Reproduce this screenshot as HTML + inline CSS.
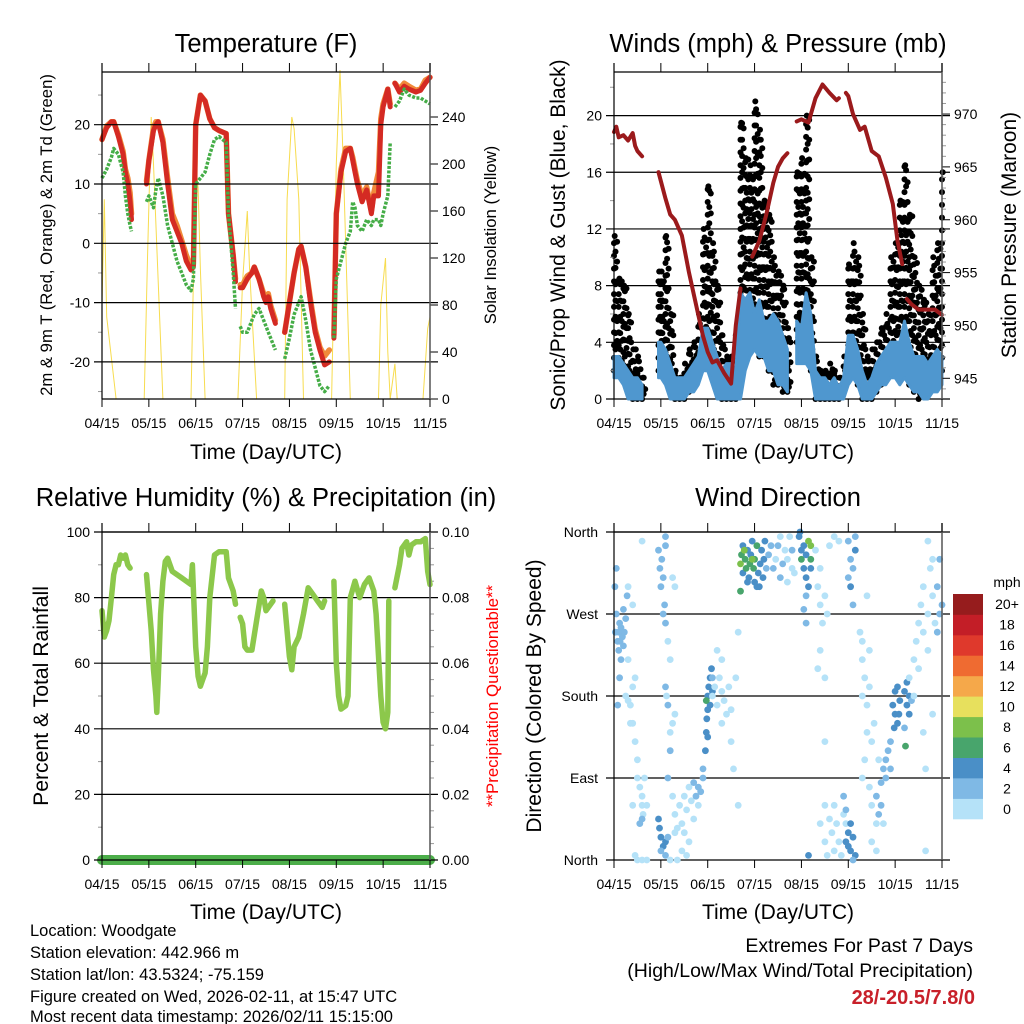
<!DOCTYPE html>
<html><head><meta charset="utf-8"><style>
html,body{margin:0;padding:0;background:#fff;}
svg{display:block;font-family:"Liberation Sans",Arial,sans-serif;}
</style></head><body>
<svg id="chart" width="1024" height="1024" viewBox="0 0 1024 1024" xmlns="http://www.w3.org/2000/svg">
<rect width="1024" height="1024" fill="#fff"/>
<g id="layer"></g>
<text x="266" y="52" font-size="25.5" text-anchor="middle">Temperature (F)</text>
<text x="778" y="52" font-size="25.5" text-anchor="middle">Winds (mph) &amp; Pressure (mb)</text>
<text x="266" y="506" font-size="25.5" text-anchor="middle">Relative Humidity (%) &amp; Precipitation (in)</text>
<text x="778" y="506" font-size="25.5" text-anchor="middle">Wind Direction</text>
<text x="266" y="459" font-size="21" text-anchor="middle">Time (Day/UTC)</text>
<text x="778" y="459" font-size="21" text-anchor="middle">Time (Day/UTC)</text>
<text x="266" y="919" font-size="21" text-anchor="middle">Time (Day/UTC)</text>
<text x="778" y="919" font-size="21" text-anchor="middle">Time (Day/UTC)</text>
<text transform="translate(52,235) rotate(-90)" font-size="16.7" text-anchor="middle">2m &amp; 9m T (Red, Orange) &amp; 2m Td (Green)</text>
<text transform="translate(496,235) rotate(-90)" font-size="16.7" text-anchor="middle">Solar Insolation (Yellow)</text>
<text transform="translate(565,235) rotate(-90)" font-size="21" text-anchor="middle">Sonic/Prop Wind &amp; Gust (Blue, Black)</text>
<text transform="translate(1016,235) rotate(-90)" font-size="21" text-anchor="middle">Station Pressure (Maroon)</text>
<text transform="translate(48,696) rotate(-90)" font-size="21.2" text-anchor="middle">Percent &amp; Total Rainfall</text>
<text transform="translate(498,696) rotate(-90)" font-size="16.8" fill="#ff0000" text-anchor="middle">**Precipitation Questionable**</text>
<text transform="translate(541,696) rotate(-90)" font-size="21" text-anchor="middle">Direction (Colored By Speed)</text>
<g font-size="16.5">
<text x="30" y="936">Location: Woodgate</text>
<text x="30" y="958">Station elevation: 442.966 m</text>
<text x="30" y="980">Station lat/lon: 43.5324; -75.159</text>
<text x="30" y="1002">Figure created on Wed, 2026-02-11, at 15:47 UTC</text>
<text x="30" y="1024" dy="-2">Most recent data timestamp: 2026/02/11 15:15:00</text>
</g>
<text x="973" y="952" font-size="19.5" text-anchor="end">Extremes For Past 7 Days</text>
<text x="973" y="977" font-size="19.5" text-anchor="end">(High/Low/Max Wind/Total Precipitation)</text>
<text x="975" y="1004" font-size="20" font-weight="bold" fill="#c8202a" text-anchor="end">28/-20.5/7.8/0</text>
</svg>
<script>
// ---------- data ----------
const xTickLabels = ["04/15","05/15","06/15","07/15","08/15","09/15","10/15","11/15"];
const tempTimes = [0,0.1,0.2,0.25,0.35,0.45,0.5,0.55,0.6,0.63,0.8,0.95,1.0,1.1,1.15,1.2,1.3,1.4,1.5,1.6,1.7,1.8,1.9,1.95,2.0,2.1,2.2,2.3,2.4,2.5,2.65,2.7,2.8,2.85,2.9,2.95,3.0,3.1,3.2,3.25,3.35,3.45,3.5,3.55,3.6,3.7,3.8,3.9,4.0,4.1,4.2,4.25,4.35,4.45,4.55,4.65,4.75,4.85,4.9,4.95,5.0,5.1,5.2,5.3,5.35,5.4,5.45,5.55,5.65,5.75,5.8,5.9,5.95,6.0,6.1,6.15,6.2,6.25,6.35,6.45,6.55,6.7,6.8,6.9,7.0];
const temp2m = [17.5,19.5,20.5,20.5,18,15,12,10,7,4,null,10,14,19,20,20.5,17,10,4,2,0,-3,-4.5,-4,20,25,24,21,19.5,19,18.5,5,-2,-6.5,null,-7.5,-7.5,-6,-5,-4,-6,-9,-10,-9,-11,-13.5,null,-15,-10,-5,-1,-0.5,-4,-10,-15,-18,-20.5,-20,null,-16,5,12,15.5,16,14,12,10,7,9,5,8,8,20,23,26,23,null,27,25.5,26.5,26,25.5,25.8,27,28];
const temp9m = [17.5,19.8,20.5,20.5,18.3,15.5,12.5,11,8.5,5,null,10.5,14,19.5,20.5,20.5,17.5,11,5,3,0.5,-2,-4,-3.5,20,25,24,21,19.5,19,18.5,5,-2,-6,null,-7,-7,-5.5,-5,-4,-6,-8.5,-9.5,-8.5,-10.5,-13,null,-15,-10,-5,-1,-0.5,-4,-9.5,-14.5,-17.5,-19,-18,null,-15.5,5,12.5,16,16,14.5,12.5,10.5,8,9.5,5.5,8.5,12,21,23.5,26,23.5,null,27,26,27,26.5,25.8,26,27.5,28];
const dew2m = [11,12.5,14.5,16,15,12,8,5,3,2,null,7,8,6,9,11,8,3,0,-3,-5,-7,-8,-6,10,11,12,15,17.5,18,17,5,-5,-11,null,-14,-15,-15,-13,-12,-11,-13,-14,-15,-16,-18,null,-19.5,-16,-12,-10,-9,-13,-18,-21,-24,-25,-24,null,-16,-6,-3,0,2,7,6,3,2,4,3,4,4,3,5,8,17,null,23,24,26,25,24.5,24.5,24,23.5];
const solarTimes = [0,0.05,0.1,0.3,0.9,0.97,1.05,1.1,1.3,1.9,2.0,2.05,2.1,2.2,2.9,3.0,3.1,3.15,3.3,3.9,3.95,4.05,4.1,4.2,4.3,4.9,5.0,5.08,5.15,5.3,5.9,5.95,6.05,6.1,6.15,6.25,6.3,6.85,6.95,7.0];
const solarVals = [80,170,70,0,0,120,240,200,0,0,200,180,110,0,0,100,160,110,0,0,170,240,230,170,0,0,200,280,200,0,0,80,120,40,0,30,0,0,60,70];
const windTimes = [0,0.1,0.2,0.3,0.4,0.5,0.6,0.7,0.8,0.9,0.95,1.0,1.1,1.2,1.3,1.4,1.5,1.6,1.7,1.8,1.9,2.0,2.1,2.2,2.3,2.4,2.5,2.6,2.7,2.8,2.9,3.0,3.1,3.2,3.3,3.4,3.5,3.6,3.7,3.8,3.9,4.0,4.1,4.2,4.3,4.4,4.5,4.6,4.7,4.8,4.9,5.0,5.1,5.2,5.3,5.4,5.5,5.6,5.7,5.8,5.9,6.0,6.1,6.2,6.3,6.4,6.5,6.6,6.7,6.8,6.9,7.0];
const windLow = [1.5,1.5,1,0,0,0,0,null,null,null,1.5,1.5,1,0,0,0,0,0.5,0.5,1,2,2,1,0,0,0,0,0,0,2,3,3.5,3,3,2,2,1,1,0.5,null,2.5,2.5,2.5,2,0,0,0,0,0,0,0,1,1.5,1,0,0,0,0.5,1,1,1.5,1.5,1,1.5,1,0.5,0.5,0,0,0.5,0.5,1];
const windHigh = [3,3,2.5,2,1.5,1.5,1,null,null,null,4,4,3.5,2.5,1.5,1.5,1.5,2,2.5,3,5,5,4,3,2,2.5,2.5,2,7.5,7,7.5,6,7,5.5,5.5,6,5.5,4.5,3.5,null,5.5,5,7.5,6,2,1.5,1.5,1,1.5,0.8,1.5,4.5,4.5,3.5,2,1,1.5,2.5,3,3.5,4,4,4,5.5,4,3,3,3,2.5,3,3.5,3];
const gustMin = [2,2,1.5,0.5,0,0,0,null,null,null,2,2,1.5,1,0,0,0,0.5,1,1.5,3,4,2,0.5,0,0,0,0,3,5,5,4,3,3,2,1,1,0.5,0.5,null,4,4,5,2,0,0,0,0,0,0,0.5,2,2,1,0,0,0,0.5,1,1.5,2,3,2,2,1,0.5,0,0.5,1,1,1.5,2];
const gustMax = [11.5,8.5,8,6,3.5,3,1.5,null,null,null,9,9,11.5,6,2,1.5,2.5,3.5,4,6,12,15,11,8,4.5,3,3,4.5,19.5,17,16.5,21,19,14,13,10,9,8,5,null,16,17,20,10,3,2,2,2.5,2,1.5,3,9.5,11,10,6,3,3.5,4,5,6,10,11,14,16.5,13,10,8,7,6,10,11,16];
const presTimes = [0,0.05,0.1,0.2,0.3,0.4,0.45,0.5,0.6,0.8,0.95,1.1,1.2,1.3,1.45,1.6,1.8,1.9,2.0,2.1,2.2,2.35,2.5,2.6,2.7,2.8,2.95,3.1,3.25,3.4,3.5,3.6,3.7,3.8,3.9,4.0,4.15,4.3,4.45,4.6,4.75,4.8,4.9,4.95,5.0,5.1,5.25,5.35,5.5,5.65,5.8,5.95,6.05,6.15,6.2,6.25,6.35,6.5,6.7,6.85,7.0];
const presVals = [968.3,968.8,967.8,968,967.5,968.2,967,966.5,966,null,964.5,962,960.5,960,958.5,955,951,949,947.5,946.5,946.7,945.5,944.5,950,953.5,null,956.5,958,960.5,963.5,965,965.8,966.3,null,969.3,969.5,969.2,971.5,972.8,972,971.3,971.5,null,972,971.7,970,968.5,968.8,966.5,966,964,961.5,958,955.8,null,952.5,952,951.5,951.5,951.5,951];
const rhTimes = [0,0.05,0.1,0.15,0.2,0.25,0.3,0.35,0.4,0.45,0.5,0.55,0.6,0.8,0.95,1.05,1.1,1.15,1.17,1.2,1.25,1.3,1.35,1.4,1.5,1.6,1.7,1.8,1.9,1.93,2.0,2.05,2.1,2.15,2.2,2.25,2.3,2.4,2.5,2.6,2.65,2.7,2.8,2.85,2.9,2.95,3.0,3.05,3.1,3.2,3.3,3.4,3.45,3.5,3.6,3.65,3.8,3.9,4.0,4.05,4.1,4.2,4.3,4.4,4.5,4.6,4.7,4.75,4.85,4.95,5.0,5.05,5.1,5.2,5.25,5.3,5.4,5.5,5.6,5.7,5.8,5.85,5.95,6.0,6.05,6.1,6.12,6.2,6.25,6.35,6.4,6.5,6.55,6.6,6.7,6.8,6.9,6.95,7.0];
const rhVals = [76,68,70,73,80,87,90,90,93,92,93,90,89,null,87,70,58,50,45,55,75,85,91,92,88,87,86,85,84,90,65,56,53,55,57,65,80,93,94,94,94,86,82,78,null,74,72,65,64,64,73,82,80,76,78,79,null,78,62,58,65,68,75,83,81,79,77,79,null,85,60,50,46,47,50,80,85,80,84,86,82,75,50,42,40,45,79,null,83,90,95,97,93,96,97,97,98,88,84];
const precipTimes = [0,7];
const precipVals = [0,0];
const dirTime = [0.02,0.03,0.05,0.05,0.08,0.1,0.1,0.12,0.13,0.15,0.15,0.18,0.2,0.2,0.22,0.25,0.28,0.3,0.12,0.08,0.25,0.3,0.35,0.4,0.4,0.45,0.5,0.5,0.55,0.6,0.6,0.65,0.62,0.7,0.55,0.6,0.4,0.45,0.5,0.6,0.7,0.4,0.3,0.6,0.35,0.45,
0.95,0.98,1.0,1.02,1.05,1.1,1.1,1.08,1.05,1.1,1.15,1.2,1.15,1.1,1.12,1.25,1.3,1.2,1.3,1.25,0.95,0.97,1.0,1.05,1.1,1.15,1.0,1.1,1.15,1.2,1.25,1.3,1.35,1.2,
1.3,1.4,1.45,1.5,1.5,1.55,1.6,1.6,1.65,1.7,1.7,1.75,1.8,1.85,1.9,1.9,1.45,1.55,1.35,1.8,
1.95,1.97,1.98,2.0,2.0,2.02,2.05,2.08,2.1,2.05,1.97,2.0,2.1,
2.1,2.15,2.2,2.25,2.3,2.35,2.4,2.45,2.5,2.2,2.3,2.5,2.55,2.3,2.6,2.65,2.65,
2.7,2.72,2.75,2.75,2.8,2.82,2.85,2.88,2.9,2.92,2.95,2.98,3.0,3.0,3.05,3.08,3.1,3.12,3.15,3.18,3.2,3.22,3.25,3.3,3.35,3.4,2.7,2.85,3.05,2.78,2.95,
3.45,3.5,3.55,3.6,3.65,3.7,3.75,3.8,3.85,3.55,3.7,3.8,
3.95,4.0,4.0,4.05,4.05,4.1,4.1,4.15,4.15,4.2,4.2,4.1,4.05,3.97,4.1,4.2,
4.3,4.35,4.4,4.45,4.5,4.55,4.4,4.6,4.7,4.8,4.4,4.5,4.35,4.5,
4.4,4.5,4.5,4.55,4.6,4.65,4.7,4.7,4.75,4.8,4.85,4.9,4.9,4.95,4.95,
4.95,5.0,5.0,5.05,5.1,5.05,5.15,5.1,4.15,
5.0,5.05,5.05,5.1,5.15,5.1,5.0,5.15,
5.25,5.3,5.35,5.3,5.4,5.45,5.4,5.5,5.35,5.3,5.45,5.5,5.6,5.55,5.4,5.3,5.45,5.5,5.6,
5.6,5.65,5.7,5.75,5.8,5.8,5.7,5.85,5.9,5.75,5.65,5.9,
5.95,6.0,6.0,6.05,6.05,6.1,5.98,6.08,6.2,6.25,6.3,6.25,6.3,6.2,6.35,6.22,
6.3,6.4,6.45,6.5,6.5,6.55,6.6,6.6,6.7,6.7,6.75,6.8,6.8,6.85,6.9,6.9,6.95,7.0,6.95,6.7,6.4,6.6,6.65,6.65,6.8];
const dirDeg = [300,250,320,270,240,250,230,260,240,255,220,245,235,275,250,265,290,300,200,170,180,175,170,190,150,130,110,90,80,70,60,90,50,60,40,45,60,5,0,0,0,280,220,350,150,200,
340,320,300,330,310,345,355,280,270,260,240,220,170,190,180,150,160,140,300,310,45,35,25,15,20,25,10,5,90,120,70,30,0,0,
50,60,40,70,30,55,80,20,65,45,85,70,80,75,90,100,10,5,35,60,
120,140,155,165,180,190,200,210,185,170,175,135,200,
180,190,170,200,185,175,160,190,165,230,220,130,100,150,200,250,60,
325,335,315,345,330,320,340,310,325,335,350,320,305,330,345,315,300,325,340,310,330,350,320,335,345,320,295,305,300,340,330,
330,345,310,325,340,330,355,340,315,355,305,320,
355,340,330,320,345,310,335,300,350,330,345,290,275,360,260,320,
340,300,280,260,290,270,320,345,355,350,230,200,210,130,
40,60,20,5,45,30,10,60,40,20,5,50,70,40,55,
20,30,15,10,25,40,5,0,5,
350,330,300,320,340,280,310,355,
250,220,200,180,170,190,140,130,110,90,80,60,40,150,290,240,230,20,10,
70,50,85,100,90,110,60,120,100,40,110,130,
170,185,160,150,190,175,145,160,185,170,160,195,180,145,175,125,
200,220,240,260,210,280,250,300,230,270,320,290,330,260,250,300,270,280,330,350,180,140,100,10,160];
const dirSpeed = [2,2,2,2,2,2,2,2,2,2,2,2,2,2,2,2,2,0,2,2,0,0,0,0,0,0,0,0,0,0,0,0,0,0,2,2,0,0,0,0,0,0,0,0,0,0,
2,2,2,2,2,2,2,2,2,2,0,0,2,2,0,0,0,0,0,0,4,4,4,4,4,2,2,2,2,2,0,0,0,0,
0,0,0,0,0,0,0,0,0,0,2,2,2,2,2,2,0,0,0,0,
4,4,4,4,4,4,4,4,4,4,6,4,2,
0,0,0,0,0,0,0,0,0,0,0,0,0,0,0,0,0,
8,6,4,4,6,6,4,4,6,4,4,6,4,6,6,4,4,4,4,4,4,4,2,2,2,2,6,4,4,8,8,
0,2,2,2,0,0,0,2,0,0,0,0,
4,4,6,4,4,4,4,4,8,6,8,2,2,4,2,4,
0,0,0,0,0,0,0,0,0,0,0,0,0,0,
0,0,0,0,0,0,0,0,0,0,0,0,2,0,2,
4,4,4,4,4,4,4,2,4,
2,2,4,2,4,2,2,2,
0,0,0,0,0,0,0,0,0,0,0,0,0,0,0,0,0,0,0,
2,2,2,2,2,2,2,2,2,0,0,2,
4,4,4,4,4,4,4,4,4,4,4,4,4,2,2,6,
0,0,0,0,0,0,0,0,0,0,0,0,0,0,2,2,2,2,2,0,0,0,0,0,0];
const speedBins = ["0","2","4","6","8","10","12","14","16","18","20+"];
const speedColors = ["#b5e2f8","#7fb9e5","#4a8fc7","#48a56c","#7cc04b","#e7e05d","#f5a84a","#ef6b31","#df392c","#c31e27","#961c1d"];

// ---------- helpers ----------
const NS="http://www.w3.org/2000/svg";
const layer=document.getElementById('layer');
function mk(tag,attrs,parent){const e=document.createElementNS(NS,tag);for(const k in attrs)e.setAttribute(k,attrs[k]);(parent||layer).appendChild(e);return e;}
function xs(L,R){return t=>L+t/7*(R-L);}
function pathFrom(ts,vs,fx,fy){let d="",pen=false;for(let i=0;i<ts.length;i++){if(vs[i]===null){pen=false;continue;}d+=(pen?"L":"M")+fx(ts[i]).toFixed(1)+","+fy(vs[i]).toFixed(1);pen=true;}return d;}

function frame(L,R,T,B,g){
  mk('line',{x1:L,y1:T,x2:R,y2:T,stroke:'#000','stroke-width':1.2},g);
  mk('line',{x1:L,y1:T-9,x2:L,y2:B,stroke:'#000','stroke-width':1.2},g);
  mk('line',{x1:R,y1:T-9,x2:R,y2:B,stroke:'#555','stroke-width':1.5},g);
  const fx=xs(L,R);
  xTickLabels.forEach((lab,i)=>{
    const x=fx(i);
    mk('line',{x1:x,y1:T-9,x2:x,y2:T,stroke:'#000','stroke-width':1},g);
    mk('line',{x1:x,y1:B,x2:x,y2:B+8,stroke:'#000','stroke-width':1},g);
    const t=mk('text',{x:x,y:B+29,'font-size':14,'text-anchor':'middle'},g);
    
    
    t.textContent=lab;
  });
}
function hgrid(L,R,y,lab,g,rightLab){
  mk('line',{x1:L-8,y1:y,x2:R+8,y2:y,stroke:'#000','stroke-width':1.2},g);
  if(lab!==null){const t=mk('text',{x:L-12,y:y+5,'font-size':14,'text-anchor':'end'},g);
    
    
    t.textContent=lab;}
  if(rightLab!==undefined){const t=mk('text',{x:R+12,y:y+5,'font-size':14},g);
    
    
    t.textContent=rightLab;}
}
function rtick(R,y,lab,g){
  mk('line',{x1:R,y1:y,x2:R+8,y2:y,stroke:'#000','stroke-width':1},g);
  const t=mk('text',{x:R+12,y:y+5,'font-size':14},g);
  
  
  t.textContent=lab;
}
function minor(x0,x1,y,g){mk('line',{x1:x0,y1:y,x2:x1,y2:y,stroke:'#999','stroke-width':1},g);}

// ---------- Panel 1: temperature ----------
(function(){
  const L=102,R=430,T=72,B=399;
  const g=mk('g',{});
  
  
  const fx=xs(L,R), fy=v=>243.3-v*5.93, fs=v=>399-v*1.175;
  const sol=mk('path',{d:pathFrom(solarTimes,solarVals,fx,fs),fill:'none',stroke:'#f7dc4f','stroke-width':1},g);
  
  
  const o=mk('path',{d:pathFrom(tempTimes,temp9m,fx,fy),fill:'none',stroke:'#f08a3a','stroke-width':5.5,'stroke-linejoin':'round','stroke-linecap':'round'},g);
  
  
  const r=mk('path',{d:pathFrom(tempTimes,temp2m,fx,fy),fill:'none',stroke:'#d42a23','stroke-width':5,'stroke-linejoin':'round','stroke-linecap':'round'},g);
  
  
  const d=mk('path',{d:pathFrom(tempTimes,dew2m,fx,fy),fill:'none',stroke:'#45ad47','stroke-width':3.5,'stroke-dasharray':'3 1.5','stroke-linejoin':'round'},g);
  
  
  [20,10,0,-10,-20].forEach(v=>hgrid(L,R,fy(v),String(v),g));
  [-25,-15,-5,5,15,25].forEach(v=>minor(L-4,L,fy(v),g));
  [0,40,80,120,160,200,240].forEach(v=>rtick(R,fs(v),String(v),g));
  mk('line',{x1:L,y1:B,x2:R,y2:B,stroke:'#000','stroke-width':1.2},g);
  frame(L,R,T,B,g);
})();

// ---------- Panel 2: winds & pressure ----------
(function(){
  const L=614,R=942,T=72,B=399;
  const g=mk('g',{});
  
  
  const fx=xs(L,R), fy=v=>399-v*14.17, fp=v=>378.3-(v-945)*10.57;
  [0,4,8,12,16,20].forEach(v=>hgrid(L,R,fy(v),String(v),g));
  const gg=mk('g',{fill:'#000'},g);
  
  
  for(let i=0;i<windTimes.length;i++){
    if(gustMin[i]===null)continue;
    const lo=gustMin[i],hi=gustMax[i];
    for(let k=0;k<3;k++){
      const t=windTimes[i]+k*0.033;
      if(t>7)break;
      for(let v=lo+k*0.35;v<=hi;v+=0.9+0.25*k){
        const c=mk('circle',{cx:fx(t).toFixed(1),cy:fy(v).toFixed(1),r:3},gg);
        
        
      }
    }
    const c=mk('circle',{cx:fx(windTimes[i]+0.015).toFixed(1),cy:fy(hi).toFixed(1),r:3},gg);
    
    
  }
  let seg=[];const segs=[];
  for(let i=0;i<windTimes.length;i++){if(windLow[i]===null){if(seg.length)segs.push(seg);seg=[];}else seg.push(i);}
  if(seg.length)segs.push(seg);
  segs.forEach(s=>{
    let d="";s.forEach((i,j)=>{d+=(j?"L":"M")+fx(windTimes[i]).toFixed(1)+","+fy(windHigh[i]).toFixed(1);});
    s.slice().reverse().forEach(i=>{d+="L"+fx(windTimes[i]).toFixed(1)+","+fy(windLow[i]).toFixed(1);});
    const p=mk('path',{d:d+"Z",fill:'#4f97cf',stroke:'#4f97cf','stroke-width':3,'stroke-linejoin':'round'},g);
    
    
  });
  const pr=mk('path',{d:pathFrom(presTimes,presVals,fx,fp),fill:'none',stroke:'#9b1a1c','stroke-width':4,'stroke-linejoin':'round','stroke-linecap':'round'},g);
  
  
  [2,6,10,14,18,22].forEach(v=>minor(L-4,L,fy(v),g));
  [945,950,955,960,965,970].forEach(v=>rtick(R,fp(v),String(v),g));
  for(let v=944;v<=973;v++) if(v%5) mk('line',{x1:R,y1:fp(v),x2:R+4,y2:fp(v),stroke:'#999'},g);
  frame(L,R,T,B,g);
})();

// ---------- Panel 3: humidity ----------
(function(){
  const L=102,R=430,T=532,B=860;
  const g=mk('g',{});
  
  
  const fx=xs(L,R), fy=v=>860-v*3.28, fpr=v=>860-v*3280;
  [20,40,60,80].forEach(v=>hgrid(L,R,fy(v),String(v),g,(v/1000).toFixed(2)));
  hgrid(L,R,fy(100),"100",g,"0.10");
  [10,30,50,70,90].forEach(v=>{minor(L-4,L,fy(v),g);});
  for(let v=5;v<100;v+=5) if(v%20) mk('line',{x1:R,y1:fy(v),x2:R+4,y2:fy(v),stroke:'#999'},g);
  const rh=mk('path',{d:pathFrom(rhTimes,rhVals,fx,fy),fill:'none',stroke:'#8cc84b','stroke-width':5.5,'stroke-linejoin':'round','stroke-linecap':'round'},g);
  
  
  const pp=mk('path',{d:pathFrom(precipTimes,precipVals,fx,fpr),fill:'none',stroke:'#4cae4a','stroke-width':10,'stroke-linecap':'round'},g);
  
  
  hgrid(L,R,fy(0),"0",g,"0.00");
  frame(L,R,T,B,g);
})();

// ---------- Panel 4: wind direction ----------
(function(){
  const L=614,R=942,T=532,B=860;
  const g=mk('g',{});
  
  
  const fx=xs(L,R), fy=d=>860-d*328/360;
  const labs=["North","East","South","West","North"];
  [0,90,180,270,360].forEach((d,i)=>{
    mk('line',{x1:L-8,y1:fy(d),x2:R+8,y2:fy(d),stroke:'#000','stroke-width':1.2},g);
    const t=mk('text',{x:L-16,y:fy(d)+5,'font-size':14,'text-anchor':'end'},g);
    
    
    t.textContent=labs[i];
  });
  for(let i=0;i<dirTime.length;i++){
    const c=mk('circle',{cx:fx(dirTime[i]).toFixed(1),cy:fy(dirDeg[i]).toFixed(1),r:3.4,fill:speedColors[Math.min(10,Math.floor(dirSpeed[i]/2))]},g);
    
    
  }
  frame(L,R,T,B,g);
  const cb=mk('g',{},g);
  
  
  const mph=mk('text',{x:1007,y:587,'font-size':14,'text-anchor':'middle'},cb);
  
  
  mph.textContent="mph";
  const h=225/speedBins.length;
  speedBins.forEach((lab,i)=>{
    const y=819-(i+1)*h;
    const r=mk('rect',{x:953,y:y.toFixed(1),width:30,height:(h+0.3).toFixed(1),fill:speedColors[i]},cb);
    
    
    const t=mk('text',{x:1007,y:(y+h/2+5).toFixed(1),'font-size':14,'text-anchor':'middle'},cb);
    
    
    t.textContent=lab;
  });
})();
</script>
</body></html>
